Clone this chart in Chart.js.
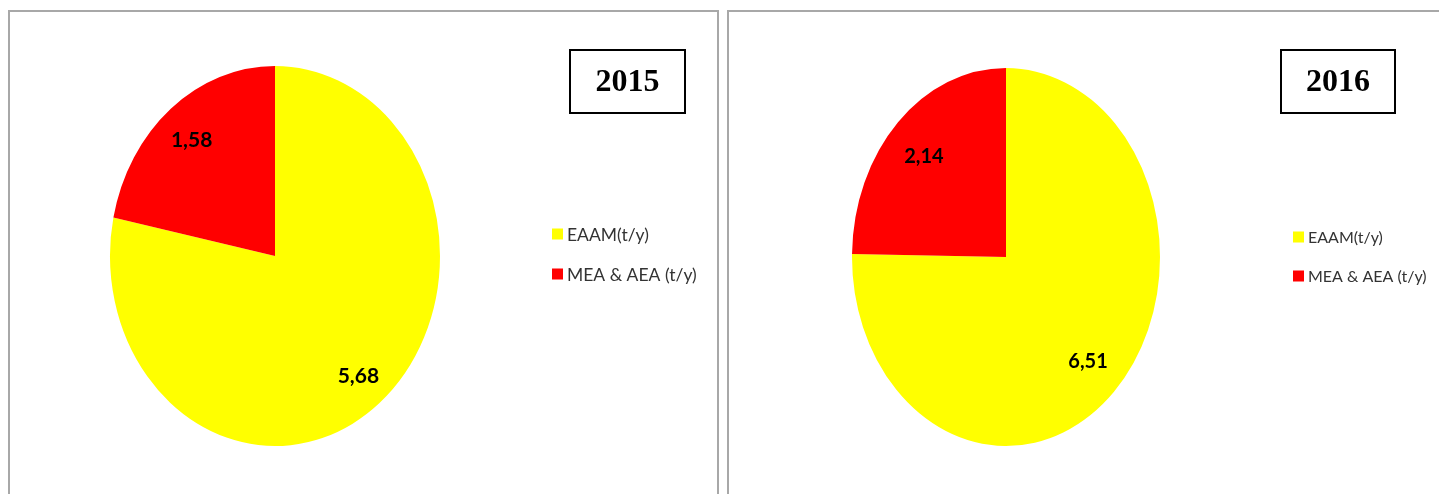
<!DOCTYPE html>
<html>
<head>
<meta charset="utf-8">
<script src="https://cdn.jsdelivr.net/npm/chart.js@4/dist/chart.umd.min.js"></script>
<style>
  html, body { margin: 0; padding: 0; background: #fff; overflow: hidden; }
  body { width: 1439px; height: 494px; position: relative; }
  .panel { position: absolute; top: 10px; height: 520px; border: 2px solid #a8a8a8; box-sizing: border-box; }
  #p1 { left: 8px; width: 711px; }
  #p2 { left: 727px; width: 740px; }
  canvas { position: absolute; top: 0; }
  #c1 { left: 0; }
  #c2 { left: 720px; }
</style>
</head>
<body>
<div class="panel" id="p1"></div>
<div class="panel" id="p2"></div>
<canvas id="c1" width="720" height="494"></canvas>
<canvas id="c2" width="719" height="494"></canvas>
<script>
const categories = ['EAAM(t/y)', 'MEA & AEA (t/y)'];
const years = ['2015', '2016'];
const values2015 = [5.68, 1.58];
const values2016 = [6.51, 2.14];
const sliceColors = ['#FFFF00', '#FF0000'];

function fmt(v) { return v.toFixed(2).replace('.', ','); }

const ellipsePlugin = {
  id: 'ellipse',
  beforeDatasetsDraw(chart, args, opts) {
    const meta = chart.getDatasetMeta(0);
    const a = meta.data[0];
    const ctx = chart.ctx;
    ctx.save();
    ctx.translate(a.x, a.y);
    ctx.scale(opts.sx, 1);
    ctx.translate(-a.x, -a.y);
  },
  afterDatasetsDraw(chart, args, opts) {
    const ctx = chart.ctx;
    ctx.restore();
    const meta = chart.getDatasetMeta(0);
    const ds = chart.data.datasets[0];
    ctx.save();
    ctx.font = 'bold ' + opts.labelFont + 'px Lato, "Open Sans", sans-serif';
    ctx.fillStyle = '#000';
    ctx.textAlign = 'center';
    ctx.textBaseline = 'middle';
    meta.data.forEach((arc, i) => {
      const mid = (arc.startAngle + arc.endAngle) / 2;
      const r = arc.outerRadius * opts.labelR;
      const x = arc.x + Math.cos(mid) * r * opts.sx;
      const y = arc.y + Math.sin(mid) * r;
      ctx.fillText(fmt(ds.data[i]), x, y + 2);
    });
    ctx.restore();
  },
  afterDraw(chart, args, opts) {
    const ctx = chart.ctx;
    ctx.save();
    // title box
    const b = opts.box;
    ctx.strokeStyle = '#000';
    ctx.lineWidth = 2;
    ctx.strokeRect(b.x, b.y, b.w, b.h);
    ctx.fillStyle = '#000';
    ctx.font = 'bold 32px "Liberation Serif", "Times New Roman", serif';
    ctx.textAlign = 'center';
    ctx.textBaseline = 'middle';
    ctx.fillText(opts.title, b.x + b.w / 2, b.y + b.h / 2 + 1);
    // legend
    const L = opts.legend;
    ctx.font = L.size + 'px Lato, "Open Sans", sans-serif';
    ctx.textAlign = 'left';
    chart.data.labels.forEach((lab, i) => {
      const y = L.y + i * L.gap;
      ctx.fillStyle = chart.data.datasets[0].backgroundColor[i];
      ctx.fillRect(L.x, y - 5.5, 11, 11);
      ctx.fillStyle = '#333';
      ctx.fillText(lab, L.x + 15, y + 1);
    });
    ctx.restore();
  }
};

function makeChart(id, values, title, pad, sx, box, legend, labelR, labelFont) {
  return new Chart(document.getElementById(id), {
    type: 'pie',
    data: {
      labels: categories,
      datasets: [{ data: values, backgroundColor: sliceColors, borderWidth: 0 }]
    },
    options: {
      responsive: false,
      animation: false,
      events: [],
      layout: { padding: pad },
      plugins: {
        legend: { display: false },
        tooltip: { enabled: false },
        ellipse: { sx: sx, title: title, box: box, legend: legend, labelR: labelR, labelFont: labelFont }
      }
    },
    plugins: [ellipsePlugin]
  });
}

makeChart('c1', values2015, years[0],
  { left: 85, right: 255, top: 66, bottom: 48 }, 165 / 190,
  { x: 570, y: 50, w: 115, h: 63 }, { x: 552, y: 234, gap: 40, size: 17.5 }, 0.8, 21);
makeChart('c2', values2016, years[1],
  { left: 97, right: 244, top: 68, bottom: 48 }, 154 / 189,
  { x: 561, y: 50, w: 114, h: 63 }, { x: 573, y: 237, gap: 39, size: 16 }, 0.76, 20);
</script>
</body>
</html>
